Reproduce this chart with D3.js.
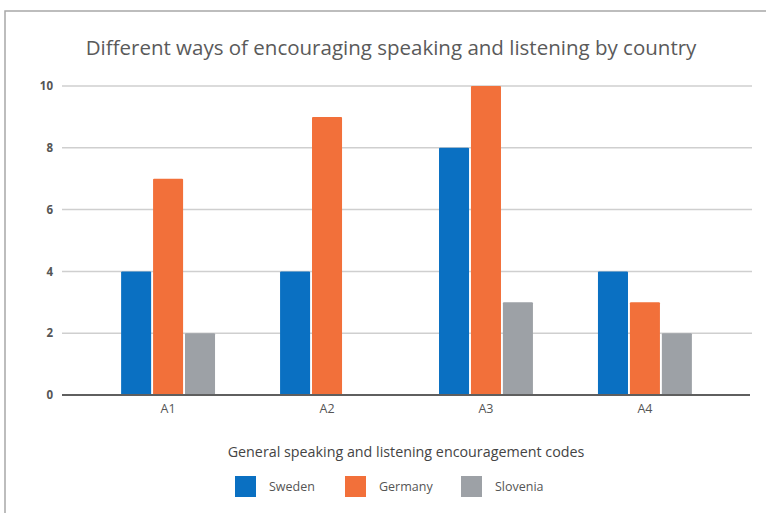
<!DOCTYPE html>
<html>
<head>
    <title>Speaking and listening by country</title>
    <script src="https://cdnjs.cloudflare.com/ajax/libs/d3/7.8.5/d3.min.js"></script>
    <style>
        body { margin: 0; background: #fff; }
    </style>
</head>
<body>
<div id="graph"></div>
<script>
    var width = 766;
    var height = 513;

    var codes = ["A1", "A2", "A3", "A4"];
    var countries = ["Sweden", "Germany", "Slovenia"];
    var sweden = [4, 4, 8, 4];
    var germany = [7, 9, 10, 3];
    var slovenia = [2, 0, 3, 2];
    var yTicks = [0, 2, 4, 6, 8, 10];
    var colours = ["#0a70c2", "#f2703a", "#9da1a6"];

    var seriesValues = [sweden, germany, slovenia];
    var rows = codes.map(function (c, i) {
        return {code: c, values: countries.map(function (k, j) {
            return {country: k, value: seriesValues[j][i]};
        })};
    });

    var svg = d3.select("#graph").append("svg")
            .attr("width", width)
            .attr("height", height);

    // frame round the chart
    svg.append("rect")
            .attr("x", 5).attr("y", 11)
            .attr("width", 780).attr("height", 520)
            .attr("fill", "none")
            .attr("stroke", "#a8a8a8")
            .attr("stroke-width", 1.5);

    var x0 = d3.scaleBand().domain(codes).range([89, 724]).paddingInner(0.385).paddingOuter(0.19);
    var x1 = d3.scaleBand().domain(countries).range([0, x0.bandwidth()]).padding(0.06);
    var y = d3.scaleLinear().domain([0, 10]).range([395, 86]);

    // grid lines
    svg.append("g")
            .selectAll("line")
            .data(yTicks.filter(function (d) { return d > 0; }))
            .enter().append("line")
            .attr("x1", 62).attr("x2", 752)
            .attr("y1", function (d) { return y(d); })
            .attr("y2", function (d) { return y(d); })
            .attr("stroke", "#cfcfcf")
            .attr("stroke-width", 1.5);

    var yAxis = svg.append("g")
            .attr("transform", "translate(53,0)")
            .call(d3.axisLeft(y).tickValues(yTicks).tickSize(0).tickPadding(0));
    yAxis.select(".domain").remove();
    yAxis.selectAll("text")
            .attr("font-family", "Open Sans")
            .attr("font-size", "11.5px")
            .attr("font-weight", "bold")
            .attr("fill", "#555");

    var groups = svg.selectAll(".group")
            .data(rows)
            .enter().append("g")
            .attr("transform", function (d) { return "translate(" + x0(d.code) + ",0)"; });

    groups.selectAll("rect")
            .data(function (d) { return d.values.filter(function (v) { return v.value > 0; }); })
            .enter().append("rect")
            .attr("x", function (d) { return x1(d.country); })
            .attr("y", function (d) { return y(d.value); })
            .attr("width", x1.bandwidth())
            .attr("height", function (d) { return y(0) - y(d.value); })
            .attr("rx", 1)
            .attr("fill", function (d, i) { return colours[countries.indexOf(d.country)]; });

    // baseline
    svg.append("line")
            .attr("x1", 62).attr("x2", 750)
            .attr("y1", y(0)).attr("y2", y(0))
            .attr("stroke", "#5f5f5f")
            .attr("stroke-width", 2);

    var xAxis = svg.append("g")
            .attr("transform", "translate(0," + y(0) + ")")
            .call(d3.axisBottom(x0).tickSize(0).tickPadding(9));
    xAxis.select(".domain").remove();
    xAxis.selectAll("text")
            .attr("font-family", "Open Sans")
            .attr("font-size", "12.5px")
            .attr("fill", "#555");

    svg.append("text")
            .attr("x", 391).attr("y", 55)
            .attr("text-anchor", "middle")
            .attr("font-family", "Open Sans")
            .attr("font-size", "20.5px")
            .attr("fill", "#5a5a5a")
            .text("Different ways of encouraging speaking and listening by country");

    svg.append("text")
            .attr("x", 406).attr("y", 457)
            .attr("text-anchor", "middle")
            .attr("font-family", "Open Sans")
            .attr("font-size", "14.3px")
            .attr("fill", "#444")
            .text("General speaking and listening encouragement codes");

    var legendX = [235, 345, 461];
    var legend = svg.selectAll(".legend")
            .data(countries)
            .enter().append("g")
            .attr("transform", function (d, i) { return "translate(" + legendX[i] + ",476)"; });
    legend.append("rect")
            .attr("width", 21).attr("height", 21)
            .attr("fill", function (d, i) { return colours[i]; });
    legend.append("text")
            .attr("x", 34).attr("y", 15)
            .attr("font-family", "Open Sans")
            .attr("font-size", "12.5px")
            .attr("fill", "#555")
            .text(function (d) { return d; });
</script>
</body>
</html>
